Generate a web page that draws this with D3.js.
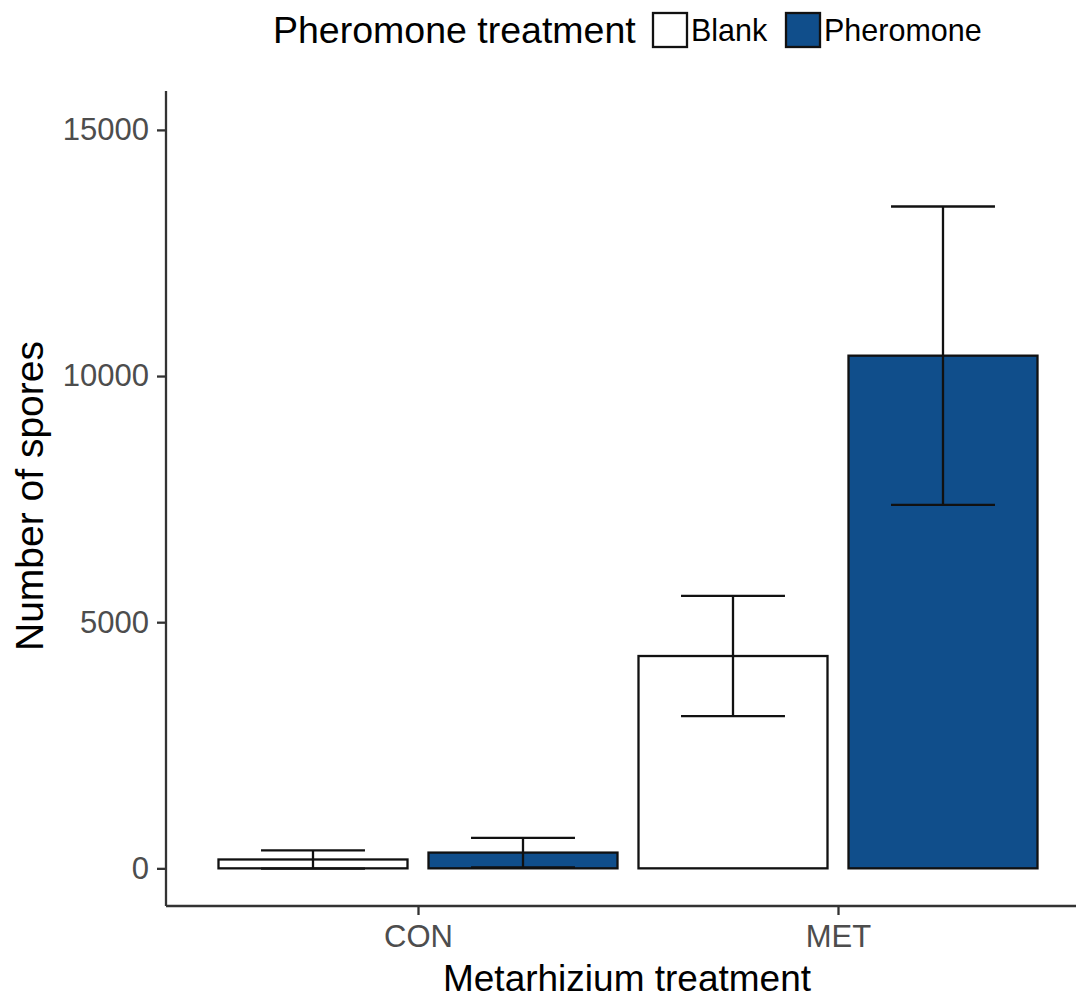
<!DOCTYPE html>
<html>
<head>
<meta charset="utf-8">
<script src="https://cdn.jsdelivr.net/npm/d3@7"></script>
<style>
  html, body { margin: 0; padding: 0; background: #ffffff; }
  svg { display: block; font-family: "Liberation Sans", Arial, sans-serif; }
</style>
</head>
<body>
<svg id="chart" width="1076" height="1001"></svg>
<script>
// Spore counts (mean ± SE) by Metarhizium treatment and pheromone treatment
const metarhizium = ["CON", "MET"];
const pheromone = ["Blank", "Pheromone"];
const blankMean = [180, 4313];
const blankSE = [185, 1220];
const pheromoneMean = [320, 10414];
const pheromoneSE = [300, 3030];
const yTicks = [0, 5000, 10000, 15000];

const fills = { Blank: "#ffffff", Pheromone: "#104e8b" };

const rows = [];
metarhizium.forEach((m, i) => {
  rows.push({ group: m, treat: "Blank", mean: blankMean[i], se: blankSE[i] });
  rows.push({ group: m, treat: "Pheromone", mean: pheromoneMean[i], se: pheromoneSE[i] });
});

const svg = d3.select("#chart");
const panel = { left: 166, right: 1090, top: 91, bottom: 906 };
const lineW = 2.3;

const x = d3.scalePoint().domain(metarhizium).range([panel.left, panel.right]).padding(0.6);
const step = x.step();
const xInner = d3.scaleBand().domain(pheromone)
  .range([-step / 2, step / 2]).paddingInner(0.1).paddingOuter(0.05);
const y = d3.scaleLinear().domain([-765, 15790]).range([panel.bottom, panel.top]);

const bw = xInner.bandwidth();
const capW = bw * 0.55;

// bars
svg.append("g").selectAll("rect").data(rows).join("rect")
  .attr("x", d => x(d.group) + xInner(d.treat))
  .attr("y", d => y(d.mean))
  .attr("width", bw)
  .attr("height", d => y(0) - y(d.mean))
  .attr("fill", d => fills[d.treat])
  .attr("stroke", "#111")
  .attr("stroke-width", lineW);

// error bars
const eb = svg.append("g").attr("stroke", "#111").attr("stroke-width", lineW).attr("fill", "none");
rows.forEach(d => {
  const cx = x(d.group) + xInner(d.treat) + bw / 2;
  const hi = y(d.mean + d.se), lo = y(d.mean - d.se);
  eb.append("line").attr("x1", cx).attr("x2", cx).attr("y1", hi).attr("y2", lo);
  eb.append("line").attr("x1", cx - capW / 2).attr("x2", cx + capW / 2).attr("y1", hi).attr("y2", hi);
  eb.append("line").attr("x1", cx - capW / 2).attr("x2", cx + capW / 2).attr("y1", lo).attr("y2", lo);
});

// y axis
const yAxis = svg.append("g").attr("transform", `translate(${panel.left},0)`)
  .call(d3.axisLeft(y).tickValues(yTicks).tickSize(9).tickPadding(8).tickFormat(d3.format("d")));
yAxis.select(".domain").attr("stroke", "#333").attr("stroke-width", lineW)
  .attr("d", `M0,${panel.top}V${panel.bottom}`);
yAxis.selectAll(".tick line").attr("stroke", "#333").attr("stroke-width", lineW);
yAxis.selectAll(".tick text").attr("fill", "#4d4d4d").attr("font-size", 31)
  .attr("font-family", "Liberation Sans, Arial, sans-serif");

// x axis
const xAxis = svg.append("g").attr("transform", `translate(0,${panel.bottom})`)
  .call(d3.axisBottom(x).tickSize(9).tickPadding(10));
xAxis.select(".domain").attr("stroke", "#333").attr("stroke-width", lineW)
  .attr("d", `M${panel.left},0H${panel.right}`);
xAxis.selectAll(".tick line").attr("stroke", "#333").attr("stroke-width", lineW);
xAxis.selectAll(".tick text").attr("fill", "#4d4d4d").attr("font-size", 31)
  .attr("font-family", "Liberation Sans, Arial, sans-serif");

// axis titles
svg.append("text")
  .attr("x", 627).attr("y", 991)
  .attr("text-anchor", "middle").attr("font-size", 37).attr("fill", "#000")
  .text("Metarhizium treatment");
svg.append("text")
  .attr("transform", "translate(43,496) rotate(-90)")
  .attr("text-anchor", "middle").attr("font-size", 39).attr("fill", "#000")
  .text("Number of spores");

// legend
const legend = svg.append("g");
legend.append("text").attr("x", 273).attr("y", 43)
  .attr("font-size", 37.5).attr("fill", "#000").text("Pheromone treatment");
const keyX = { Blank: 653, Pheromone: 786 };
pheromone.forEach(p => {
  legend.append("rect").attr("x", keyX[p]).attr("y", 13).attr("width", 34).attr("height", 34)
    .attr("fill", fills[p]).attr("stroke", "#111").attr("stroke-width", lineW);
  legend.append("text").attr("x", keyX[p] + 38).attr("y", 41)
    .attr("font-size", 30.5).attr("fill", "#000").text(p);
});
</script>
</body>
</html>
